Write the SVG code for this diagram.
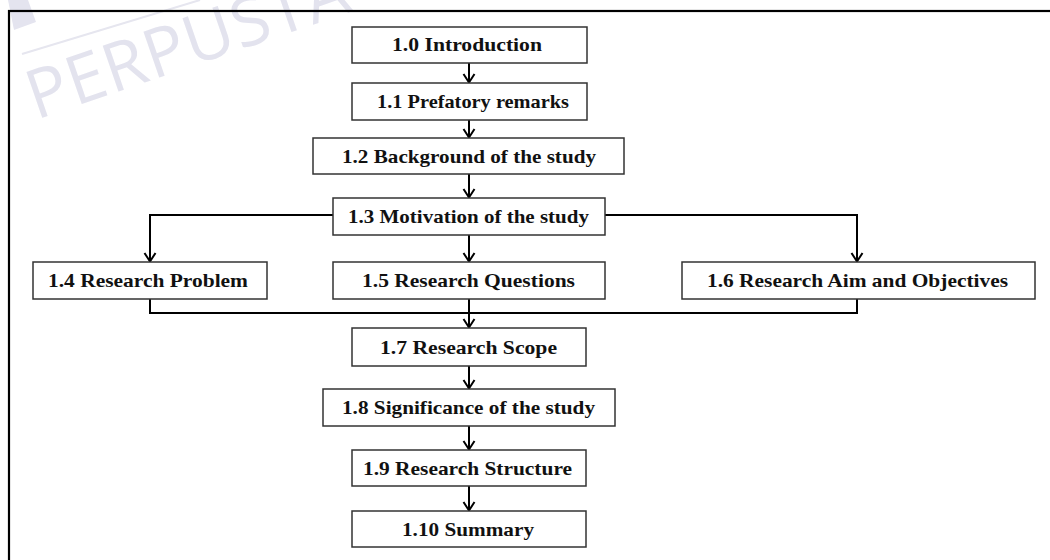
<svg xmlns="http://www.w3.org/2000/svg" width="1050" height="560" viewBox="0 0 1050 560">
<defs>
<marker id="arr" markerUnits="userSpaceOnUse" markerWidth="12" markerHeight="16" viewBox="-10 -8 12 16" refX="0" refY="0" orient="auto">
<path d="M-9,-5.5 L-0.5,0 L-9,5.5" fill="none" stroke="#000" stroke-width="2"/>
</marker>
<style>
.box{fill:#fff;stroke:#333;stroke-width:1.5}
.lbl{font-family:"Liberation Serif","Times New Roman",serif;font-weight:bold;font-size:19.5px;fill:#111}
.con{fill:none;stroke:#000;stroke-width:2}
.wm{font-family:"Open Sans","Lato",sans-serif;font-weight:400;font-size:68px;fill:#e3e3ee;letter-spacing:1px}
</style>
</defs>
<rect width="1050" height="560" fill="#fff"/>
<g id="watermark">
<polygon points="8,0 28,0 36,22 14,30" fill="#e4e4ef"/>
<line x1="22" y1="54" x2="200" y2="0" stroke="#e6e6ef" stroke-width="2"/>
<text class="wm" x="36" y="120" transform="rotate(-19 36 120)">PERPUSTA</text>
</g>
<rect id="frame" x="9" y="11" width="1060" height="570" fill="none" stroke="#000" stroke-width="2.2"/>
<g id="connectors">
<line class="con" x1="469" y1="63" x2="469" y2="83" marker-end="url(#arr)"/>
<line class="con" x1="469" y1="120" x2="469" y2="138" marker-end="url(#arr)"/>
<line class="con" x1="469" y1="174" x2="469" y2="198" marker-end="url(#arr)"/>
<line class="con" x1="469" y1="235" x2="469" y2="262" marker-end="url(#arr)"/>
<polyline class="con" points="333,215 150,215 150,262" marker-end="url(#arr)"/>
<polyline class="con" points="605,215 857,215 857,262" marker-end="url(#arr)"/>
<polyline class="con" points="150,299 150,313 857,313 857,299"/>
<line class="con" x1="469" y1="299" x2="469" y2="328" marker-end="url(#arr)"/>
<line class="con" x1="469" y1="366" x2="469" y2="389" marker-end="url(#arr)"/>
<line class="con" x1="469" y1="426" x2="469" y2="450" marker-end="url(#arr)"/>
<line class="con" x1="469" y1="486" x2="469" y2="511" marker-end="url(#arr)"/>
</g>
<g id="n10"><rect class="box" x="352" y="27" width="235" height="36"/><text class="lbl" x="392" y="51" textLength="150" lengthAdjust="spacingAndGlyphs">1.0 Introduction</text></g>
<g id="n11"><rect class="box" x="352" y="83" width="235" height="37"/><text class="lbl" x="377" y="108" textLength="192" lengthAdjust="spacingAndGlyphs">1.1 Prefatory remarks</text></g>
<g id="n12"><rect class="box" x="313" y="138" width="311" height="36"/><text class="lbl" x="342" y="162.5" textLength="254" lengthAdjust="spacingAndGlyphs">1.2 Background of the study</text></g>
<g id="n13"><rect class="box" x="333" y="198" width="272" height="37"/><text class="lbl" x="348" y="223" textLength="241" lengthAdjust="spacingAndGlyphs">1.3 Motivation of the study</text></g>
<g id="n14"><rect class="box" x="33" y="262" width="234" height="37"/><text class="lbl" x="48" y="287" textLength="200" lengthAdjust="spacingAndGlyphs">1.4 Research Problem</text></g>
<g id="n15"><rect class="box" x="333" y="262" width="272" height="37"/><text class="lbl" x="362" y="287" textLength="213" lengthAdjust="spacingAndGlyphs">1.5 Research Questions</text></g>
<g id="n16"><rect class="box" x="682" y="262" width="353" height="37"/><text class="lbl" x="707" y="287" textLength="301" lengthAdjust="spacingAndGlyphs">1.6 Research Aim and Objectives</text></g>
<g id="n17"><rect class="box" x="352" y="328" width="234" height="38"/><text class="lbl" x="380" y="353.5" textLength="177" lengthAdjust="spacingAndGlyphs">1.7 Research Scope</text></g>
<g id="n18"><rect class="box" x="323" y="389" width="292" height="37"/><text class="lbl" x="342" y="414" textLength="253" lengthAdjust="spacingAndGlyphs">1.8 Significance of the study</text></g>
<g id="n19"><rect class="box" x="352" y="450" width="234" height="36"/><text class="lbl" x="363" y="474.5" textLength="209" lengthAdjust="spacingAndGlyphs">1.9 Research Structure</text></g>
<g id="n110"><rect class="box" x="352" y="511" width="234" height="36"/><text class="lbl" x="402" y="535.5" textLength="132" lengthAdjust="spacingAndGlyphs">1.10 Summary</text></g>
</svg>
